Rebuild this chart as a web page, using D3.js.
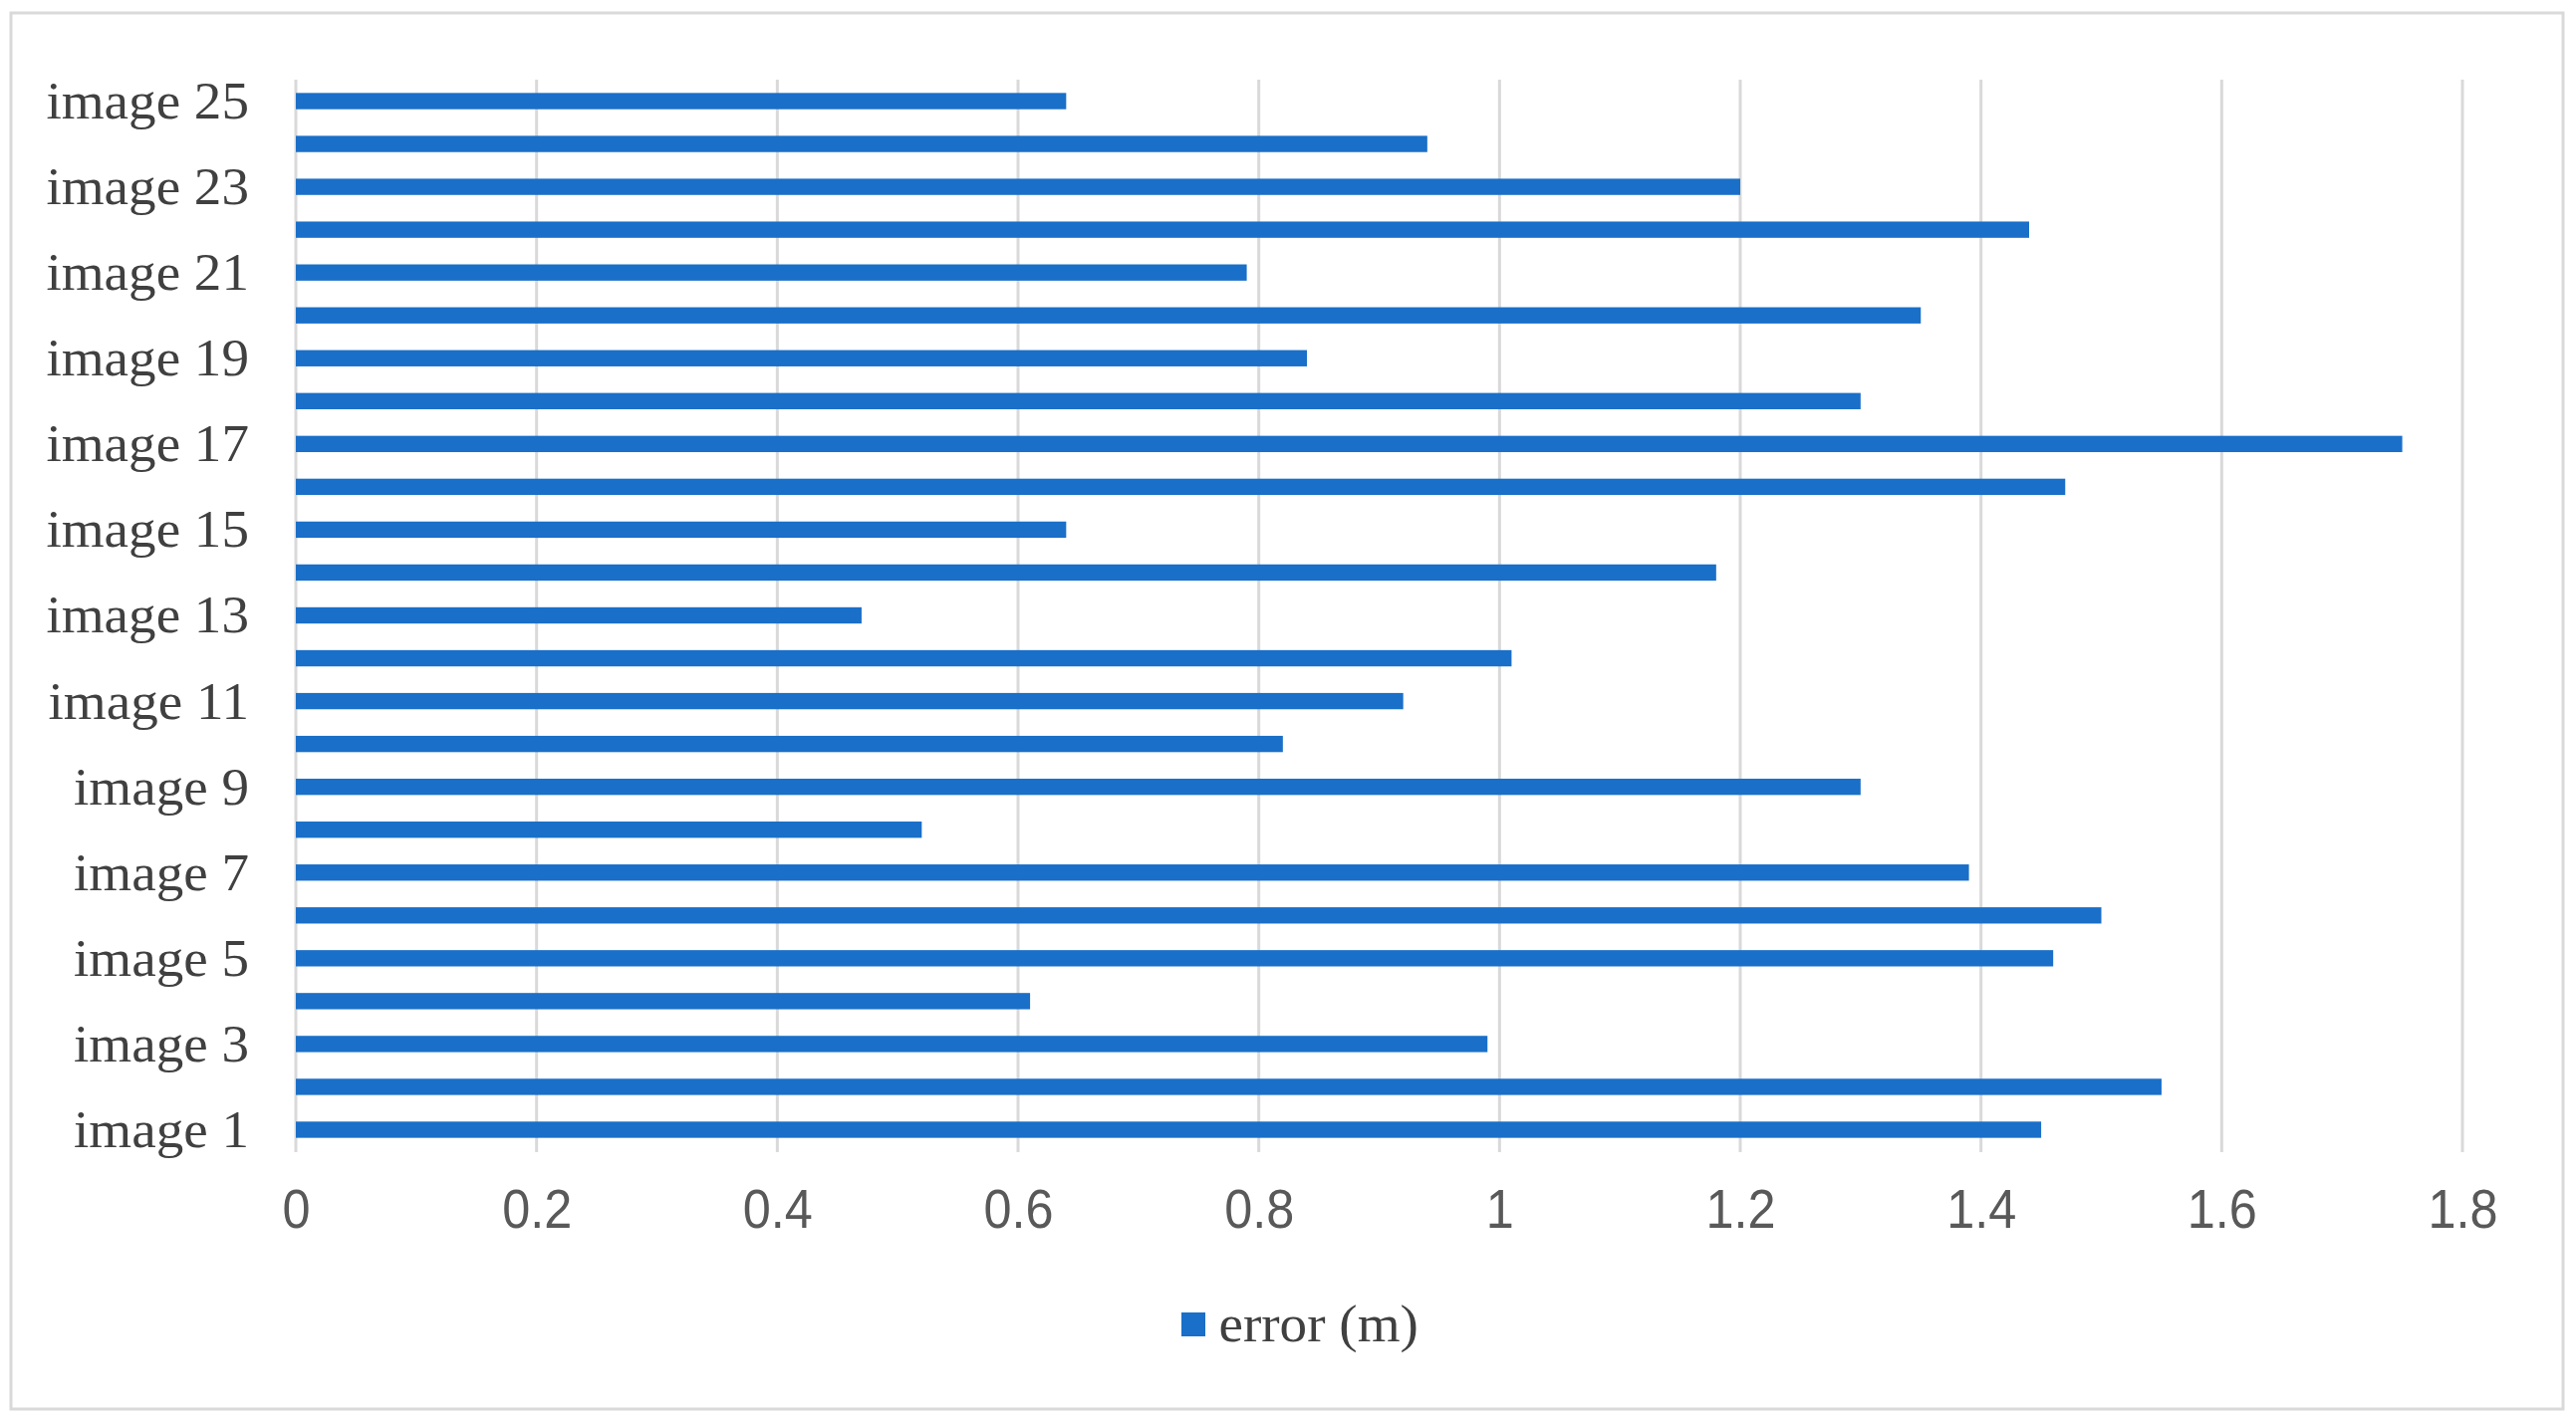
<!DOCTYPE html>
<html>
<head>
<meta charset="utf-8">
<script src="https://cdn.jsdelivr.net/npm/d3@7"></script>
<style>
  html, body { margin: 0; padding: 0; background: #ffffff; }
  svg { display: block; }
</style>
</head>
<body>
<svg id="chart" width="2586" height="1426"></svg>
<script>
const categories = ["image 1","image 2","image 3","image 4","image 5","image 6","image 7","image 8","image 9","image 10",
  "image 11","image 12","image 13","image 14","image 15","image 16","image 17","image 18","image 19","image 20",
  "image 21","image 22","image 23","image 24","image 25"];
const errorValues = [1.45, 1.55, 0.99, 0.61, 1.46, 1.50, 1.39, 0.52, 1.30, 0.82,
  0.92, 1.01, 0.47, 1.18, 0.64, 1.47, 1.75, 1.30, 0.84, 1.35,
  0.79, 1.44, 1.20, 0.94, 0.64];
const xTicks = [0, 0.2, 0.4, 0.6, 0.8, 1, 1.2, 1.4, 1.6, 1.8];
const seriesName = "error (m)";

const data = categories.map((c, i) => ({ cat: c, value: errorValues[i] }));

const svg = d3.select("#chart");
const barColor = "#1a6fc8";
const gridColor = "#d9d9d9";
const serif = "'Liberation Serif', 'Times New Roman', serif";

// outer border
svg.append("rect")
  .attr("x", 11).attr("y", 13)
  .attr("width", 2562).attr("height", 1402)
  .attr("fill", "#ffffff")
  .attr("stroke", gridColor).attr("stroke-width", 3);

const x = d3.scaleLinear().domain([0, 1.8]).range([297, 2472]);
const y = d3.scaleBand()
  .domain(categories.slice().reverse())
  .range([80, 1156])
  .paddingInner(0.62)
  .paddingOuter(0.31);

// gridlines
svg.append("g")
  .selectAll("line")
  .data(xTicks)
  .join("line")
  .attr("x1", d => x(d)).attr("x2", d => x(d))
  .attr("y1", 80).attr("y2", 1157)
  .attr("stroke", gridColor).attr("stroke-width", 3);

// bars
svg.append("g")
  .selectAll("rect")
  .data(data)
  .join("rect")
  .attr("x", x(0))
  .attr("y", d => y(d.cat))
  .attr("width", d => x(d.value) - x(0))
  .attr("height", y.bandwidth())
  .attr("fill", barColor);

// x axis labels
const xAxis = d3.axisBottom(x).tickValues(xTicks).tickSize(0).tickPadding(0)
  .tickFormat(d3.format("~g"));
const gx = svg.append("g").attr("transform", "translate(0,1213)").call(xAxis);
gx.select(".domain").remove();
gx.selectAll("text")
  .attr("dy", "0.36em")
  .attr("y", 0)
  .attr("transform", "scale(0.9,1)")
  .attr("font-family", "'Liberation Sans Narrow', 'Liberation Sans', sans-serif")
  .attr("font-size", 56)
  .attr("fill", "#595959");

// y axis labels (every other category)
const yAxis = d3.axisLeft(y)
  .tickValues(categories.filter((c, i) => i % 2 === 0))
  .tickSize(0).tickPadding(0);
const gy = svg.append("g").attr("transform", "translate(250,0)").call(yAxis);
gy.select(".domain").remove();
gy.selectAll("text")
  .attr("font-family", serif)
  .attr("font-size", 53)
  .attr("transform", "scale(1.04,1)")
  .attr("fill", "#404040")
  .attr("dy", "0.33em");

// legend
const legend = svg.append("g").attr("transform", "translate(1186,1330)");
legend.append("rect")
  .attr("x", 0).attr("y", -12)
  .attr("width", 24).attr("height", 24)
  .attr("fill", barColor);
legend.append("text")
  .attr("x", 36).attr("y", 0)
  .attr("dy", "0.33em")
  .attr("transform", "scale(1.04,1)")
  .attr("font-family", serif)
  .attr("font-size", 53)
  .attr("fill", "#404040")
  .text(seriesName);
</script>
</body>
</html>
